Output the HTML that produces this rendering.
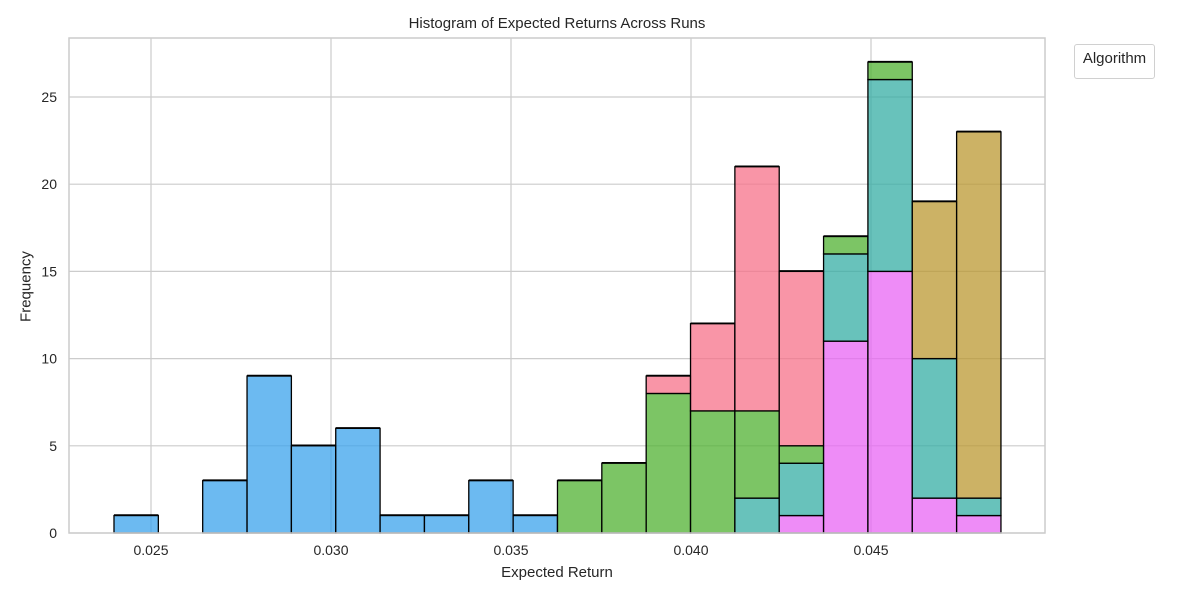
<!DOCTYPE html>
<html><head><meta charset="utf-8"><style>
body{margin:0;background:#fff;font-family:"Liberation Sans","DejaVu Sans",sans-serif}
svg text{font-family:"Liberation Sans","DejaVu Sans",sans-serif;fill:#262626}
</style></head><body>
<svg id="c" width="1200" height="600"></svg>
<script>
const binStart = 0.023972;
const binWidth = 0.0012319;
const seriesNames = ["magenta","teal","blue","green","pink","olive"];
const colors = {magenta:"#e866f4",teal:"#36ada4",blue:"#3ba3ec",green:"#50b131",pink:"#f77189",olive:"#bb9832"};
const magentaCounts = [0,0,0,0,0,0,0,0,0,0,0,0,0,0,0,1,11,15,2,1];
const tealCounts    = [0,0,0,0,0,0,0,0,0,0,0,0,0,0,2,3,5,11,8,1];
const blueCounts    = [1,0,3,9,5,6,1,1,3,1,0,0,0,0,0,0,0,0,0,0];
const greenCounts   = [0,0,0,0,0,0,0,0,0,0,3,4,8,7,5,1,1,1,0,0];
const pinkCounts    = [0,0,0,0,0,0,0,0,0,0,0,0,1,5,14,10,0,0,0,0];
const oliveCounts   = [0,0,0,0,0,0,0,0,0,0,0,0,0,0,0,0,0,0,9,21];
const xTicks = [0.025,0.030,0.035,0.040,0.045];
const xTickLabels = ["0.025","0.030","0.035","0.040","0.045"];
const yTicks = [0,5,10,15,20,25];

const NS="http://www.w3.org/2000/svg";
const svg=document.getElementById('c');
const L=69,R=1045,T=38,B=533;
const xs=v=>151+(v-0.025)*36000;
const ys=v=>B-v*17.44;
function el(tag,attrs,parent){const e=document.createElementNS(NS,tag);for(const k in attrs)e.setAttribute(k,attrs[k]);(parent||svg).appendChild(e);return e;}

const grid=el('g',{});


xTicks.forEach((t,i)=>{
  el('line',{x1:xs(t),x2:xs(t),y1:T,y2:B,stroke:"#cccccc","stroke-width":1.2},grid);
  const tx=el('text',{x:xs(t),y:B+22,"text-anchor":"middle","font-size":14});
  tx.textContent=xTickLabels[i];
  
  
});
yTicks.forEach(t=>{
  el('line',{x1:L,x2:R,y1:ys(t),y2:ys(t),stroke:"#cccccc","stroke-width":1.2},grid);
  const tx=el('text',{x:L-12,y:ys(t)+5,"text-anchor":"end","font-size":14});
  tx.textContent=t;
  
  
});

const data={magenta:magentaCounts,teal:tealCounts,blue:blueCounts,green:greenCounts,pink:pinkCounts,olive:oliveCounts};
const bars=el('g',{});


for(let i=0;i<blueCounts.length;i++){
  let base=0;
  const x0=xs(binStart+i*binWidth), x1=xs(binStart+(i+1)*binWidth);
  seriesNames.forEach(s=>{
    const v=data[s][i];
    if(v>0){
      const r=el('rect',{x:x0,y:ys(base+v),width:x1-x0,height:ys(base)-ys(base+v),fill:colors[s],"fill-opacity":0.75,stroke:"#000","stroke-width":1.3},bars);
      
      
    }
    base+=v;
  });
  if(base>0) el('line',{x1:x0,x2:x1,y1:ys(base)-0.5,y2:ys(base)-0.5,stroke:"#000","stroke-width":1.5},bars);
}
el('rect',{x:L,y:T,width:R-L,height:B-T,fill:"none",stroke:"#cccccc","stroke-width":1.5});
</script>
<div style="position:absolute;left:0;top:0;width:1200px;height:600px;pointer-events:none">
<div style="position:absolute;left:69px;width:976px;top:15px;text-align:center;font-size:15px;color:#262626">Histogram of Expected Returns Across Runs</div>
<div style="position:absolute;left:69px;width:976px;top:564px;text-align:center;font-size:15px;color:#262626">Expected Return</div>
<div style="position:absolute;left:-24px;top:278px;width:100px;text-align:center;font-size:15px;color:#262626;transform:rotate(-90deg)">Frequency</div>
<div style="position:absolute;left:1074px;top:44px;width:81px;height:35px;border:1px solid #d0d0d0;border-radius:3px;box-sizing:border-box;text-align:center;font-size:15px;color:#262626;line-height:28px">Algorithm</div>
</div>
</body></html>
